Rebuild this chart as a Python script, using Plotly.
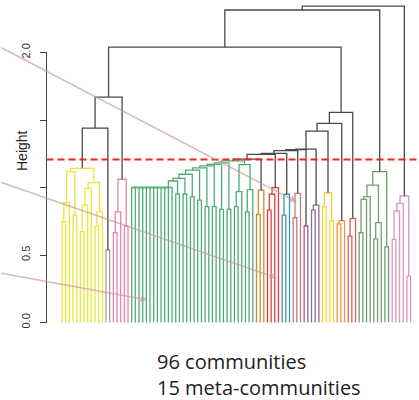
import plotly.graph_objects as go

# ---------------- data ----------------
n_leaves = 96
cut_height = 1.207

# merges: (name, left, right, height); integers are leaf positions (0..95)
merges = [
    # yellow
    ("y01", 0, 1, 0.747), ("y012", "y01", 2, 0.887), ("y34", 3, 4, 0.796),
    ("yA", "y012", "y34", 1.117), ("y56", 5, 6, 0.673), ("y567", "y56", 7, 0.870),
    ("y5678", "y567", 8, 0.994), ("y910", 9, 10, 0.715), ("y911", "y910", 11, 0.82),
    ("yB", "y5678", "y911", 1.036), ("YEL", "yA", "yB", 1.142),
    # grey
    ("GRY", 12, 13, 0.537),
    # pink
    ("p1415", 14, 15, 0.665), ("p1416", "p1415", 16, 0.82), ("p1718", 17, 18, 0.715),
    ("PNK", "p1416", "p1718", 1.061),
    # green comb (ties at 1.0)
    ("c20", 19, 20, 1.0), ("c21", "c20", 21, 1.0), ("c22", "c21", 22, 1.0),
    ("c23", "c22", 23, 1.0), ("c24", "c23", 24, 1.0), ("c25", "c24", 25, 1.0),
    ("c26", "c25", 26, 1.0), ("c27", "c26", 27, 1.0), ("c28", "c27", 28, 1.0),
    ("c29", "c28", 29, 1.0), ("comb", "c29", 30, 1.0),
    # green pairs
    ("g3132", 31, 32, 0.952), ("g3334", 33, 34, 0.952), ("g3536", 35, 36, 0.932),
    ("g3738", 37, 38, 0.907), ("g3940", 39, 40, 0.858), ("g4142", 41, 42, 0.858),
    ("g4344", 43, 44, 0.838), ("g4546", 45, 46, 0.838), ("g4748", 47, 48, 0.858),
    ("g4749", "g4748", 49, 0.969), ("g5051", 50, 51, 0.82), ("g5052", "g5051", 52, 0.985),
    ("gG", "g4749", "g5052", 1.17),
    ("E1", "comb", "g3132", 1.048), ("E2", "E1", "g3334", 1.068), ("E3", "E2", "g3536", 1.098),
    ("E4", "E3", "g3738", 1.128), ("E5", "E4", "g3940", 1.145), ("E6", "E5", "g4142", 1.16),
    ("E7", "E6", "g4344", 1.172), ("E8", "E7", "g4546", 1.183), ("GRN", "E8", "gG", 1.197),
    # goldenrod
    ("d5354", 53, 54, 0.80), ("GDR", "d5354", 55, 0.98),
    # red
    ("r5657", 56, 57, 0.833), ("r5658", "r5657", 58, 0.95), ("RED", "r5658", 59, 0.999),
    # blue
    ("b6061", 60, 61, 0.796), ("BLU", "b6061", 62, 0.95),
    # brown
    ("w6364", 63, 64, 0.776), ("BRN", "w6364", 65, 0.957),
    # purples
    ("PU1", 66, 67, 0.715),
    ("u6869", 68, 69, 0.833), ("PU2", "u6869", 70, 0.87),
    # gold
    ("o7172", 71, 72, 0.858), ("o7374", 73, 74, 0.752), ("GLD", "o7172", "o7374", 0.961),
    # orange
    ("n7576", 75, 76, 0.73), ("ORG", "n7576", 77, 0.754),
    # indian red
    ("i7879", 78, 79, 0.64), ("IRD", "i7879", 80, 0.772),
    # dark green
    ("k8182", 81, 82, 0.665), ("k83", "k8182", 83, 0.912), ("k84", "k83", 84, 0.932),
    ("k8586", 85, 86, 0.62), ("k87", "k8586", 87, 0.74), ("kA", "k84", "k87", 1.018),
    ("k8889", 88, 89, 0.56), ("GR2", "kA", "k8889", 1.117),
    # orchid
    ("h9091", 90, 91, 0.616), ("h92", "h9091", 92, 0.826), ("h93", "h92", 93, 0.883),
    ("h9495", 94, 95, 0.344), ("ORC", "h93", "h9495", 0.937),
    # upper (black) merges
    ("b1", "GRN", "GDR", 1.21), ("b2", "b1", "RED", 1.246), ("b3", "b2", "BLU", 1.253),
    ("m1", "b3", "BRN", 1.273), ("m2", "m1", "PU1", 1.28), ("m3", "m2", "PU2", 1.285),
    ("P", "m3", "GLD", 1.418), ("Q", "P", "ORG", 1.475), ("R", "Q", "IRD", 1.557),
    ("L1", "YEL", "GRY", 1.44), ("L2", "L1", "PNK", 1.67),
    ("T1", "L2", "R", 2.04), ("T2", "T1", "GR2", 2.315), ("T3", "T2", "ORC", 2.344),
]

cluster_colors = {
    "YEL": "#EEE634", "GRY": "#A3A3A3", "PNK": "#EE82AE", "GRN": "#4EAD73",
    "GDR": "#C98F2C", "RED": "#EE3A3E", "BLU": "#3C8FC2", "BRN": "#C87A6C",
    "PU1": "#9C55A6", "PU2": "#8E6C94", "GLD": "#FFD335", "ORG": "#F39230",
    "IRD": "#D2625F", "GR2": "#6FA06C", "ORC": "#DC92C2",
}
link_color = "#4A4A4A"

tick_values = [0.0, 0.5, 1.0, 1.5, 2.0]
tick_labels = ["0.0", "0.5", "", "", "2.0"]

caption_lines = ["96 communities", "15 meta-communities"]

# ---------------- layout geometry ----------------
W, H = 419, 400
px0, px_step = 62.0, 3.669      # pixel of first leaf, spacing
py0, py_unit = 322.5, 135.0     # pixel of height 0, px per unit
x_range = [-px0 / px_step, (W - px0) / px_step]
y_range = [(py0 - H) / py_unit, py0 / py_unit]

# ---------------- build dendrogram geometry ----------------
info = {}
children = {}
for name, a, b, h in merges:
    children[name] = (a, b)

def pos(node):
    if isinstance(node, int):
        return float(node), 0.0
    return info[node]

for name, a, b, h in merges:
    xa, _ = pos(a)
    xb, _ = pos(b)
    info[name] = ((xa + xb) / 2.0, h)

color_of = {}
def paint(node, col):
    if isinstance(node, int):
        return
    color_of[node] = col
    for c in children[node]:
        paint(c, col)

for root, col in cluster_colors.items():
    paint(root, col)

segs = {}
for name, a, b, h in merges:
    col = color_of.get(name, link_color)
    xa, ha = pos(a)
    xb, hb = pos(b)
    xs, ys = segs.setdefault(col, ([], []))
    xs += [xa, xa, xb, xb, None]
    ys += [ha, h, h, hb, None]

fig = go.Figure()
for col, (xs, ys) in segs.items():
    fig.add_trace(go.Scatter(x=xs, y=ys, mode="lines",
                             line=dict(color=col, width=1.3),
                             hoverinfo="skip", showlegend=False))

axis_x = 46.5 / W

fig.update_layout(
    width=W, height=H,
    margin=dict(l=0, r=0, t=0, b=0, pad=0),
    paper_bgcolor="white", plot_bgcolor="white",
    showlegend=False,
    xaxis=dict(visible=False, range=x_range, fixedrange=True),
    yaxis=dict(range=y_range, anchor="free", position=axis_x, fixedrange=True,
               showgrid=False, zeroline=False, showline=False,
               tickvals=tick_values, ticktext=tick_labels,
               ticks="outside", ticklen=7, tickwidth=1, tickcolor="#444444",
               tickangle=-90, ticklabelstandoff=5,
               tickfont=dict(family="Liberation Sans, Arial, sans-serif", size=11, color="#333333"),
               automargin=False),
)

# y axis line (only over the tick range)
fig.add_shape(type="line", xref="paper", yref="y", x0=axis_x, x1=axis_x,
              y0=tick_values[0], y1=tick_values[-1],
              line=dict(color="#444444", width=1))

# cut line
fig.add_shape(type="line", xref="paper", yref="y", x0=axis_x, x1=1.0,
              y0=cut_height, y1=cut_height,
              line=dict(color="#FF1F1F", width=2, dash="7px,4px"))

# pointer lines coming from the left (pixel positions: tail -> tip)
pointers = [((0, 47), (297, 202)), ((0, 182), (277, 278)), ((0, 273), (148, 300))]
for (tx, ty), (hx, hy) in pointers:
    fig.add_annotation(x=hx / W, y=1 - hy / H, xref="paper", yref="paper",
                       ax=tx - hx, ay=ty - hy, axref="pixel", ayref="pixel",
                       text="", showarrow=True, arrowhead=2, arrowsize=0.9,
                       arrowwidth=1.6, arrowcolor="rgba(196,150,155,0.65)", standoff=0)

fig.add_annotation(x=12 / W, y=1 - 151 / H, xref="paper", yref="paper",
                   text="Height", textangle=-90, showarrow=False,
                   font=dict(family="Liberation Sans, Arial, sans-serif", size=14, color="#222222"))

fig.add_annotation(x=155 / W, y=1 - 374 / H, xref="paper", yref="paper",
                   text="<br>".join(caption_lines), showarrow=False,
                   xanchor="left", yanchor="middle", align="left",
                   font=dict(family="Open Sans, sans-serif", size=20, color="#222222"))

fig.write_html("out.html", config={"displayModeBar": False, "staticPlot": True},
               post_script="document.body.style.margin='0';document.body.style.overflow='hidden';")
